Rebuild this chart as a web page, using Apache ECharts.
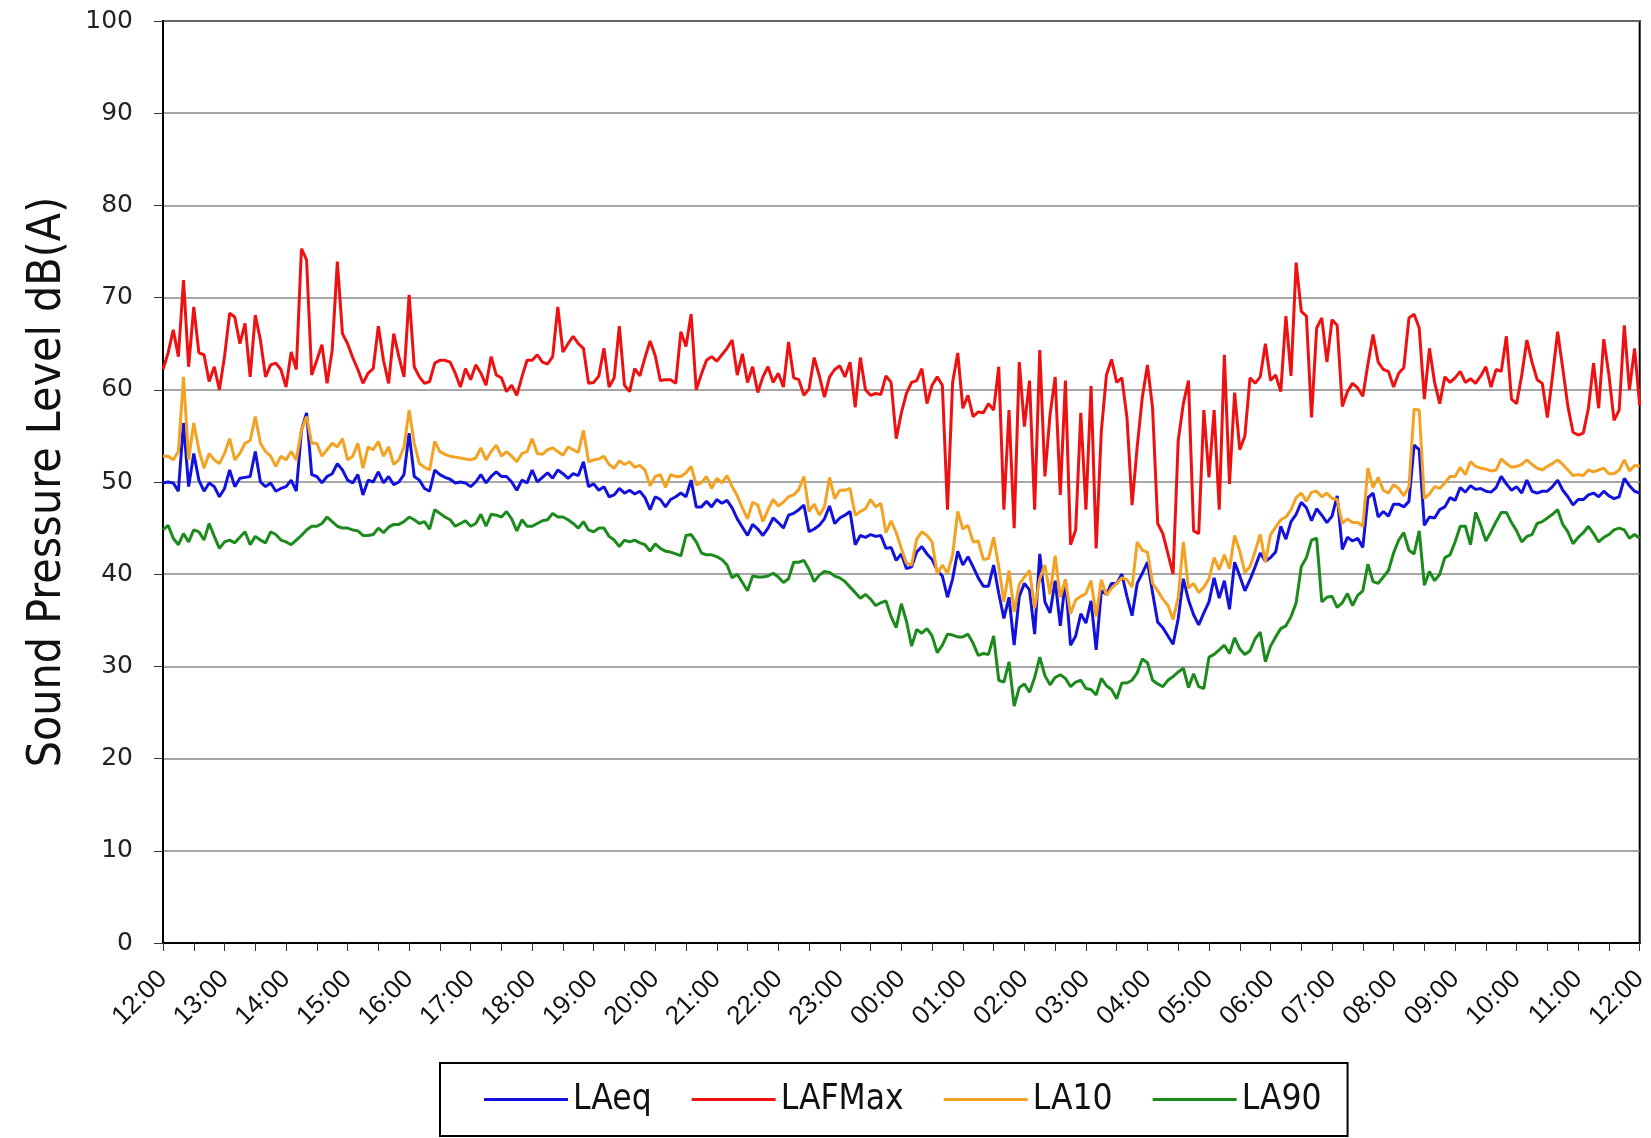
<!DOCTYPE html>
<html>
<head>
<meta charset="utf-8">
<title>Sound Pressure Level</title>
<script src="https://cdn.jsdelivr.net/npm/echarts@6/dist/echarts.min.js"></script>
<style>
  html, body { margin: 0; padding: 0; background: #fff; }
  #chart { width: 1651px; height: 1138px; }
</style>
</head>
<body>
<div id="chart"></div>
<script>
// 5 minute samples, 12:00 -> 12:00 next day
var LAeq = [
  49.9, 50, 49.9, 49, 56.4, 49.5, 53.1, 50.2, 49, 49.9, 49.5, 48.4, 49.3, 51.3, 49.5, 50.4, 50.5, 50.6, 53.3, 50, 49.5, 49.9, 49, 49.3, 49.5, 50.2, 49, 55.6, 57.5, 50.8, 50.6, 49.9, 50.6, 50.9, 52, 51.3, 50.2, 49.9,
  50.8, 48.6, 50.2, 50, 51.1, 49.9, 50.6, 49.7, 50, 50.8, 55.3, 50.6, 50.2, 49.3, 49, 51.3, 50.8, 50.5, 50.3, 49.9, 50, 49.9, 49.5, 50, 50.8, 49.9, 50.6, 51.1, 50.6, 50.6, 50, 49.1, 50.2, 49.9, 51.3, 50, 50.5,
  51, 50.4, 51.3, 50.9, 50.4, 50.9, 50.7, 52.2, 49.5, 49.8, 49.1, 49.5, 48.4, 48.6, 49.3, 48.8, 49.1, 48.7, 49, 48.3, 47, 48.4, 48.1, 47.3, 48.1, 48.4, 48.8, 48.4, 50.2, 47.3, 47.3, 47.9, 47.3, 48.1, 47.7, 48, 47.2,
  46, 45.1, 44.2, 45.4, 44.9, 44.2, 45, 46.1, 45.6, 45, 46.4, 46.6, 47, 47.5, 44.6, 44.9, 45.3, 46, 47.4, 45.5, 46.1, 46.4, 46.8, 43.2, 44.2, 44, 44.3, 44.1, 44.2, 42.8, 42.9, 41.5, 42.2, 40.6, 40.8, 42.4, 43,
  42.2, 41.6, 40.4, 39.8, 37.5, 39.5, 42.5, 41, 41.9, 40.8, 39.6, 38.7, 38.7, 41, 37.9, 35.2, 37.5, 32.3, 37.6, 39, 38.3, 33.5, 42.2, 37, 35.8, 39.3, 34.4, 39.4, 32.3, 33.3, 35.7, 34.7, 37.1, 31.8, 38.2, 37.8, 39,
  39, 40, 37.6, 35.5, 39, 40.1, 41.3, 38, 34.8, 34.2, 33.3, 32.4, 35.2, 39.5, 37.2, 35.6, 34.5, 35.8, 37, 39.6, 37.4, 39.3, 36.2, 41.3, 39.8, 38.2, 39.4, 40.8, 42.3, 41.4, 41.8, 42.4, 45.2, 43.8, 45.7, 46.5, 47.8,
  47.2, 45.8, 47.1, 46.4, 45.6, 46.3, 48.5, 42.7, 44, 43.6, 43.9, 42.9, 48.3, 48.8, 46.2, 46.8, 46.3, 47.6, 47.6, 47.3, 47.9, 54, 53.5, 45.3, 46.2, 46.1, 47, 47.3, 48.3, 48,
  49.4, 48.9, 49.6, 49.2, 49.3, 49, 48.9, 49.4, 50.6, 49.8, 49.1, 49.5, 48.8, 50.2, 49, 48.8, 49, 49, 49.5, 50.2, 49.1, 48.4, 47.5, 48.1, 48.1, 48.6, 48.8, 48.4, 49, 48.5, 48.2, 48.4, 50.4, 49.6, 49, 48.8
];
var LAFMax = [
  62.2, 64, 66.5, 63.6, 71.9, 62.5, 69, 64, 63.8, 60.9, 62.5, 60, 63.6, 68.3, 67.9, 65, 67.2, 61.4, 68.1, 65.4, 61.4, 62.7, 62.9, 62.2, 60.3, 64.1, 62.2, 75.3, 74.1, 61.6, 63.2, 64.9, 60.7, 64.3, 73.9, 66.1, 65, 63.5,
  62.2, 60.7, 61.8, 62.3, 66.9, 63.2, 60.7, 66.1, 63.6, 61.4, 70.3, 62.5, 61.4, 60.7, 60.9, 62.9, 63.2, 63.2, 63, 61.8, 60.3, 62.3, 61.1, 62.7, 61.8, 60.5, 63.6, 61.6, 61.3, 59.8, 60.5, 59.4, 61.4, 63.2, 63.2, 63.8, 63,
  62.8, 63.6, 69, 64.1, 65, 65.8, 65, 64.5, 60.7, 60.8, 61.5, 64.5, 60.3, 61.3, 66.9, 60.5, 59.8, 62.3, 61.5, 63.5, 65.3, 63.7, 61, 61.1, 61.1, 60.7, 66.3, 64.7, 68.2, 60, 61.7, 63.2, 63.6, 63.1, 63.8, 64.5, 65.4,
  61.6, 63.9, 60.8, 62.5, 59.7, 61.4, 62.5, 60.8, 61.8, 60.3, 65.2, 61.3, 61.1, 59.4, 60.1, 63.5, 61.5, 59.2, 61.4, 62.2, 62.6, 61.4, 63, 58.1, 63.5, 60, 59.4, 59.6, 59.5, 61.5, 60.8, 54.7, 57.5, 59.6, 60.8, 61, 62.3,
  58.5, 60.5, 61.4, 60.5, 47, 60.8, 64, 58, 59.4, 57.1, 57.6, 57.5, 58.5, 57.8, 62.5, 47, 57.8, 45, 63, 56, 61, 47, 64.3, 50.6, 57.3, 61.4, 48.6, 61, 43.2, 44.8, 57.5, 47, 60.4, 42.8, 55.5, 61.6, 63.3,
  60.8, 61.3, 57, 47.5, 53.8, 59.2, 62.7, 58, 45.5, 44.4, 42.2, 40, 54.5, 58.5, 61, 44.7, 44.4, 57.8, 50.5, 57.8, 47, 63.8, 49.8, 59.7, 53.5, 55, 61.3, 60.7, 61.4, 65, 61, 61.6, 59.8, 68, 61.5, 73.8, 68.5,
  68, 57, 66.7, 67.8, 63, 67.6, 67, 58.2, 59.8, 60.7, 60.2, 59.3, 62.8, 66, 63, 62.2, 62, 60.3, 61.8, 62.4, 67.8, 68.2, 66.7, 59, 64.5, 60.8, 58.5, 61.4, 60.8, 61.3,
  62, 60.8, 61.2, 60.7, 61.5, 62.5, 60.3, 62.2, 62, 65.8, 59, 58.5, 61.6, 65.4, 63, 61.1, 60.7, 57, 61.5, 66.3, 62.3, 58.2, 55.4, 55.1, 55.3, 58, 62.9, 58, 65.5, 61.6, 56.7, 57.8, 67, 60, 64.5, 58.3
];
var LA10 = [
  52.8, 52.8, 52.4, 53.3, 61.4, 52.4, 56.4, 53.5, 51.5, 53.1, 52.4, 52, 53.1, 54.7, 52.4, 53.1, 54.2, 54.5, 57.1, 54.2, 53.3, 52.8, 51.7, 52.8, 52.4, 53.3, 52.4, 55.6, 57.1, 54.2, 54.2, 52.8, 53.5, 54.2, 53.8, 54.7, 52.4, 52.8,
  54.2, 51.5, 53.8, 53.5, 54.4, 52.8, 53.8, 51.9, 52.4, 53.8, 57.8, 54.2, 52, 51.6, 51.3, 54.4, 53.3, 53, 52.8, 52.7, 52.6, 52.5, 52.4, 52.6, 53.7, 52.4, 53.3, 54, 52.8, 53.3, 52.8, 52.2, 53.1, 53.3, 54.7, 53.1, 53,
  53.5, 53.7, 53.3, 52.9, 53.8, 53.5, 53.2, 55.6, 52.2, 52.4, 52.5, 52.8, 51.9, 51.5, 52.3, 51.9, 52.2, 51.6, 51.8, 51.3, 49.6, 50.6, 50.8, 49.4, 50.8, 50.6, 50.6, 51, 51.7, 49.7, 49.9, 50.6, 49.3, 50.4, 49.9, 50.7, 49.5,
  48.5, 47.2, 46, 47.8, 47.5, 45.7, 47, 48.1, 47.4, 47.8, 48.4, 48.6, 49.2, 50.6, 46.8, 47.6, 46.4, 47.3, 50.5, 48.2, 49.1, 49.1, 49.3, 46.4, 46.8, 47.1, 48.1, 47.3, 47.7, 44.5, 45.8, 44.5, 42.8, 41.2, 41, 43.8, 44.6,
  44.2, 43.5, 40, 41, 40.1, 42.1, 46.8, 44.9, 45.3, 43.5, 43.6, 41.6, 41.7, 44, 40.8, 37, 40.4, 35.9, 38.9, 39.7, 40.4, 36.3, 39.5, 41, 37.8, 42, 37.5, 39.4, 35.7, 37.2, 37.6, 37.9, 39.3, 35.4, 39.4, 37.7, 38.5,
  39, 39.6, 39.4, 38.6, 43.5, 42.6, 42.4, 39, 38.2, 37.3, 36.6, 35.1, 37.5, 43.5, 38.5, 39, 38, 38.6, 39.5, 41.8, 40.5, 42.1, 40.6, 44.2, 42.5, 40.2, 40.8, 42.5, 44.3, 41.3, 44.3, 45.1, 45.9, 46.2, 47, 48.3, 48.8,
  47.9, 48.9, 49, 48.4, 48.8, 48.2, 48.1, 45.5, 46, 45.6, 45.6, 45.2, 51.5, 49.4, 50.5, 49.1, 48.8, 49.7, 49.3, 48.5, 49.5, 57.9, 57.8, 48.2, 48.7, 49.5, 49.3, 49.9, 50.6, 50.6,
  51.6, 50.8, 52.2, 51.7, 51.5, 51.4, 51.2, 51.3, 52.5, 52, 51.6, 51.7, 51.9, 52.4, 51.9, 51.5, 51.3, 51.7, 52, 52.4, 51.9, 51.3, 50.7, 50.8, 50.7, 51.3, 51.1, 51.3, 51.5, 50.9, 50.9, 51.3, 52.4, 51.2, 51.8, 51.7
];
var LA90 = [
  44.8, 45.3, 43.9, 43.2, 44.4, 43.5, 44.8, 44.6, 43.7, 45.5, 44.1, 42.8, 43.5, 43.7, 43.4, 44, 44.6, 43.2, 44.1, 43.7, 43.4, 44.6, 44.3, 43.7, 43.5, 43.2, 43.7, 44.2, 44.8, 45.2, 45.2, 45.5, 46.2, 45.7, 45.2, 45, 45, 44.8,
  44.7, 44.2, 44.2, 44.3, 45, 44.5, 45.1, 45.4, 45.4, 45.7, 46.2, 45.9, 45.5, 45.7, 44.9, 47, 46.6, 46.2, 45.9, 45.2, 45.5, 45.8, 45.2, 45.5, 46.5, 45.2, 46.5, 46.4, 46.2, 46.8, 46, 44.7, 45.9, 45.2, 45.2, 45.5, 45.8,
  45.9, 46.6, 46.2, 46.2, 45.9, 45.5, 45, 45.7, 44.8, 44.6, 45, 45, 44.1, 43.7, 43, 43.7, 43.5, 43.7, 43.4, 43.2, 42.5, 43.3, 42.8, 42.5, 42.4, 42.2, 42, 44.2, 44.3, 43.5, 42.3, 42.1, 42.1, 41.9, 41.6, 41, 39.6,
  40, 39.1, 38.2, 39.8, 39.7, 39.7, 39.8, 40.1, 39.7, 39.1, 39.5, 41.3, 41.3, 41.5, 40.5, 39.2, 39.9, 40.3, 40.2, 39.8, 39.6, 39.2, 38.6, 38, 37.4, 37.8, 37.3, 36.6, 36.9, 37.1, 35.4, 34.2, 36.8, 34.9, 32.2, 34, 33.6,
  34.1, 33.3, 31.5, 32.3, 33.5, 33.4, 33.2, 33.2, 33.5, 32.5, 31.2, 31.4, 31.3, 33.3, 28.5, 28.3, 30.5, 25.7, 27.7, 28.1, 27.2, 28.8, 31, 29, 28, 28.8, 29.1, 28.7, 27.8, 28.3, 28.5, 27.6, 27.5, 26.9, 28.7, 27.9, 27.5,
  26.5, 28.2, 28.2, 28.5, 29.3, 30.8, 30.4, 28.5, 28.1, 27.8, 28.5, 28.9, 29.4, 29.8, 27.7, 29.2, 27.8, 27.6, 31, 31.3, 31.8, 32.3, 31.4, 33.1, 31.9, 31.3, 31.7, 33, 33.7, 30.5, 32.2, 33.2, 34.1, 34.4, 35.4, 36.9, 40.8,
  41.8, 43.7, 43.9, 37, 37.5, 37.6, 36.4, 36.9, 37.9, 36.6, 37.7, 38.2, 41.1, 39.2, 39, 39.7, 40.4, 42.3, 43.7, 44.5, 42.6, 42.2, 44.7, 38.8, 40.3, 39.3, 40, 41.8, 42.1, 43.5,
  45.2, 45.2, 43.2, 46.7, 45.3, 43.6, 44.6, 45.7, 46.7, 46.7, 45.6, 44.7, 43.5, 44.1, 44.3, 45.5, 45.7, 46.1, 46.5, 47, 45.4, 44.6, 43.3, 44, 44.5, 45.2, 44.4, 43.5, 44, 44.3, 44.8, 45, 44.8, 43.9, 44.3, 43.9
];

// category labels: clock time of each sample
var times = [];
for (var i = 0; i < LAeq.length; i++) {
  var m = (720 + i * 5) % 1440;
  var h = Math.floor(m / 60), mm = m % 60;
  times.push((h < 10 ? '0' : '') + h + ':' + (mm < 10 ? '0' : '') + mm);
}

var narrow = "'Liberation Sans Narrow', 'DejaVu Sans Condensed', 'Liberation Sans', sans-serif";

var chart = echarts.init(document.getElementById('chart'));
chart.setOption({
  animation: false,
  backgroundColor: '#fff',
  grid: {
    left: 163,
    right: 11,
    top: 21,
    bottom: 195,
    show: true,
    borderColor: '#000',
    borderWidth: 2
  },
  legend: {
    left: 440,
    top: 1063,
    icon: 'rect',
    itemWidth: 84,
    itemHeight: 3,
    itemGap: 40,
    padding: [19, 26, 19, 44],
    borderColor: '#000',
    borderWidth: 2,
    textStyle: { fontFamily: narrow, fontSize: 35, color: '#111' },
    data: ['LAeq', 'LAFMax', 'LA10', 'LA90']
  },
  xAxis: {
    type: 'category',
    boundaryGap: false,
    data: times,
    axisLine: { lineStyle: { color: '#000', width: 2 } },
    axisTick: { interval: 5, length: 8, lineStyle: { color: '#333' } },
    axisLabel: {
      interval: 11,
      rotate: 45,
      margin: 32,
      color: '#111',
      fontSize: 26,
      fontFamily: "'Liberation Sans', sans-serif"
    },
    splitLine: { show: false }
  },
  yAxis: {
    type: 'value',
    min: 0,
    max: 100,
    interval: 10,
    name: 'Sound Pressure Level dB(A)',
    nameLocation: 'middle',
    nameRotate: 90,
    nameGap: 92,
    nameTextStyle: { fontFamily: narrow, fontSize: 46, color: '#111' },
    axisLine: { show: true, lineStyle: { color: '#000', width: 2 } },
    axisTick: { show: true, length: 9, lineStyle: { color: '#333' } },
    axisLabel: {
      margin: 30,
      color: '#222',
      fontSize: 25,
      fontFamily: "'DejaVu Sans', sans-serif"
    },
    splitLine: { lineStyle: { color: '#8a8a8a', width: 1.5 } }
  },
  series: [
    { name: 'LAeq', type: 'line', data: LAeq, symbol: 'none', color: '#1212dc', lineStyle: { width: 3 } },
    { name: 'LAFMax', type: 'line', data: LAFMax, symbol: 'none', color: '#ee1111', lineStyle: { width: 3 } },
    { name: 'LA10', type: 'line', data: LA10, symbol: 'none', color: '#f3a224', lineStyle: { width: 3 } },
    { name: 'LA90', type: 'line', data: LA90, symbol: 'none', color: '#1c8a1c', lineStyle: { width: 3 } }
  ]
});
</script>
</body>
</html>
